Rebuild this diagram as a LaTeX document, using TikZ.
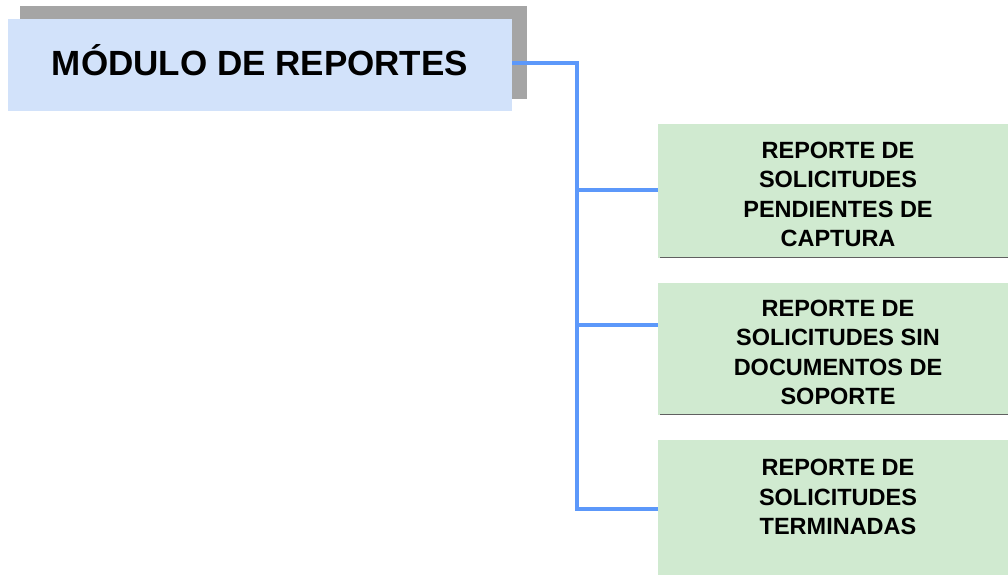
\documentclass[tikz,border=0pt]{standalone}
\usepackage{fontspec}
\setmainfont{Liberation Sans}
\begin{document}
\begin{tikzpicture}[x=1pt,y=-1pt,
  reporttext/.style={font=\fontsize{23.5}{29.5}\selectfont\bfseries, align=center, inner sep=0pt},
  link/.style={draw=linkblue, line width=3.4pt}]
\definecolor{titlefill}{RGB}{210,226,250}
\definecolor{reportfill}{RGB}{208,234,208}
\definecolor{linkblue}{RGB}{92,152,250}
\definecolor{shadowgray}{RGB}{165,165,165}
\useasboundingbox (0,0) rectangle (1008,575);
% shadow behind the title
\fill[shadowgray] (20,6) rectangle (527,99);
% title box
\fill[titlefill] (8,19) rectangle (512,111);
\node[font=\fontsize{35}{40}\selectfont\bfseries] (title) at (260,60) {MÓDULO DE REPORTES};
\coordinate (tout) at (512,63);
% report boxes
\fill[reportfill] (658,124) rectangle (1008,258);
\fill[reportfill] (658,283) rectangle (1008,415);
\fill[reportfill] (658,440) rectangle (1008,575);
\draw[gray!75!black, line width=1.6pt] (660,257.5) -- (1008,257.5);
\draw[gray!75!black, line width=1.6pt] (660,414.5) -- (1008,414.5);
\node[reporttext] (t1) at (838,194.5)
  {REPORTE DE\\SOLICITUDES\\PENDIENTES DE\\CAPTURA};
\node[reporttext] (t2) at (838,352.5)
  {REPORTE DE\\SOLICITUDES SIN\\DOCUMENTOS DE\\SOPORTE};
\node[reporttext] (t3) at (838,497)
  {REPORTE DE\\SOLICITUDES\\TERMINADAS};
\coordinate (b1) at (658,190);
\coordinate (b2) at (658,325);
\coordinate (b3) at (658,509);
% connectors
\draw[link] (tout) -- (577,63) -- (577,509) -- (b3);
\draw[link] (577,190) -- (b1);
\draw[link] (577,325) -- (b2);
\end{tikzpicture}
\end{document}
